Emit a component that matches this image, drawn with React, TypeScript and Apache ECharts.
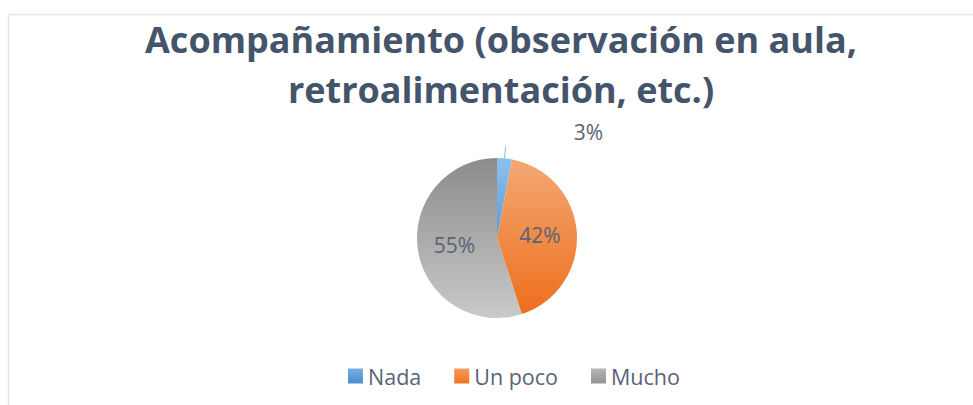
import React, { useEffect, useRef } from "react";
import * as echarts from "echarts";

const titleLines = ["Acompañamiento (observación en aula,", "retroalimentación, etc.)"];
const categories = ["Nada", "Un poco", "Mucho"];
const values = [3, 42, 55];
const gradients = [
  ["#8fc0ec", "#5b9bd5"],
  ["#f3a874", "#ee6f1c"],
  ["#8c8c8c", "#c9c9c9"],
];
const legendColors = [
  ["#7ab0e2", "#4a8ccc"],
  ["#f49a5a", "#ec7424"],
  ["#b5b5b5", "#939393"],
];

export default function App() {
  const ref = useRef<HTMLDivElement>(null);
  useEffect(() => {
    if (!ref.current) return;
    const chart = echarts.init(ref.current, null, { renderer: "svg" });
    const lg = (c: string[]) =>
      new echarts.graphic.LinearGradient(0, 0, 0, 1, [
        { offset: 0, color: c[0] },
        { offset: 1, color: c[1] },
      ]);
    const data = categories.map((name, i) => {
      const item: any = {
        name,
        value: values[i],
        itemStyle: { color: lg(gradients[i]) },
      };
      if (i === 0) {
        item.label = {
          position: "outside",
          distanceToLabelLine: 68,
          formatter: "{d}%\n ",
          lineHeight: 28,
        };
        item.labelLine = {
          show: true,
          length: 12,
          length2: 0,
          lineStyle: { color: "#8fb4dc", width: 1 },
        };
      }
      return item;
    });
    chart.setOption({
      animation: false,
      backgroundColor: "#ffffff",
      title: {
        text: titleLines.join("\n"),
        left: 501,
        textAlign: "center",
        top: 14,
        padding: 0,
        textStyle: {
          fontFamily: "Open Sans",
          fontWeight: "bold",
          fontSize: 36,
          lineHeight: 50,
          color: "#44546a",
        },
      },
      legend: {
        left: 343,
        top: 360,
        itemWidth: 15,
        itemHeight: 15,
        itemGap: 33,
        icon: "rect",
        data: categories.map((name, i) => ({
          name,
          itemStyle: { color: lg(legendColors[i]) },
        })),
        textStyle: {
          fontFamily: "Open Sans",
          fontSize: 21.5,
          color: "#596375",
        },
      },
      graphic: [
        {
          type: "rect",
          shape: { x: 8.5, y: 14.5, width: 1000, height: 500 },
          style: { fill: "none", stroke: "#e6e6ec", lineWidth: 1.5 },
          silent: true,
        },
      ],
      series: [
        {
          type: "pie",
          center: [497, 238],
          radius: 80,
          startAngle: 90,
          clockwise: true,
          avoidLabelOverlap: false,
          label: {
            show: true,
            position: "inside",
            formatter: "{d}%",
            fontFamily: "Open Sans",
            fontSize: 21,
            color: "#596375",
          },
          labelLine: { show: false },
          itemStyle: { borderWidth: 0 },
          emphasis: { disabled: true },
          data,
        },
      ],
    });
    return () => chart.dispose();
  }, []);
  return (
    <div
      ref={ref}
      style={{ position: "absolute", left: 0, top: 0, width: 973, height: 405 }}
    />
  );
}
